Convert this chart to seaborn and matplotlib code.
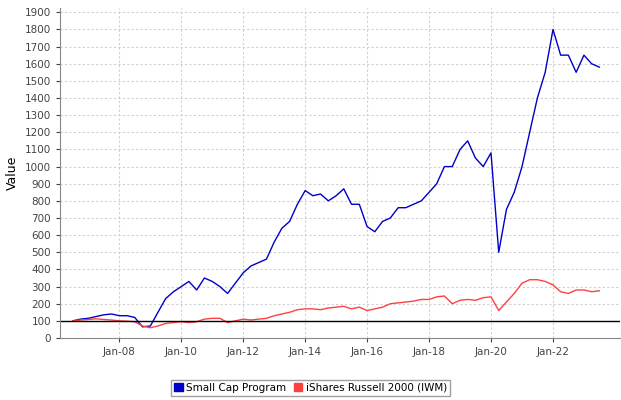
import matplotlib
matplotlib.use("Agg")
import matplotlib.pyplot as plt
import matplotlib.dates as mdates
import seaborn as sns
import pandas as pd
import numpy as np

dates = pd.date_range("2006-07-01", "2023-07-01", freq="QS")
small_cap = [100, 110,
             115, 125, 135, 140,
             130, 130, 120, 65,
             70, 150, 230, 270,
             300, 330, 280, 350,
             330, 300, 260, 320,
             380, 420, 440, 460,
             560, 640, 680, 780,
             860, 830, 840, 800,
             830, 870, 780, 780,
             650, 620, 680, 700,
             760, 760, 780, 800,
             850, 900, 1000, 1000,
             1100, 1150, 1050, 1000,
             1080, 500, 750, 850,
             1000, 1200, 1400, 1550,
             1800, 1650, 1650, 1550,
             1650, 1600, 1580]
iwm = [100, 105,
       108, 112, 108, 105,
       100, 98, 95, 70,
       60, 70, 85, 90,
       95, 90, 95, 110,
       115, 115, 90, 100,
       110, 105, 110, 115,
       130, 140, 150, 165,
       170, 170, 165, 175,
       180, 185, 170, 180,
       160, 170, 180, 200,
       205, 210, 215, 225,
       225, 240, 245, 200,
       220, 225, 220, 235,
       240, 160, 210, 260,
       320, 340, 340, 330,
       310, 270, 260, 280,
       280, 270, 275]
n = min(len(dates), len(small_cap), len(iwm))
df = pd.DataFrame({"date": list(dates[:n]) * 2,
                   "value": small_cap[:n] + iwm[:n],
                   "series": ["Small Cap Program"] * n + ["iShares Russell 2000 (IWM)"] * n})

fig = plt.figure(figsize=(6.21, 4.0), dpi=100)
ax = fig.add_axes([60/621, 62/400, 560/621, 330/400])
sns.lineplot(data=df, x="date", y="value", hue="series",
             palette={"Small Cap Program": "#0000c8", "iShares Russell 2000 (IWM)": "#ff4040"},
             linewidth=1, ax=ax, legend=False)
ax.axhline(100, color="black", linewidth=1)
ax.set_ylim(0, 1925)
ax.set_yticks(range(0, 2000, 100))
ax.set_xlim(pd.Timestamp("2006-02-01"), pd.Timestamp("2024-03-01"))
ax.xaxis.set_major_locator(mdates.YearLocator(2, month=1, day=1))
ax.xaxis.set_major_formatter(mdates.DateFormatter("Jan-%y"))
ax.set_xticks([pd.Timestamp(f"{y}-01-01") for y in range(2008, 2024, 2)])
ax.grid(True, color="#d0d0d0", linestyle=(0, (2, 2)), linewidth=0.8)
ax.tick_params(labelsize=7.5, colors="#444444", length=3)
ax.set_xlabel("")
ax.set_ylabel("Value", fontsize=9)
for s in ["top", "right"]:
    ax.spines[s].set_visible(False)
for s in ["left", "bottom"]:
    ax.spines[s].set_color("#888888")

from matplotlib.patches import Patch
handles = [Patch(color="#0000c8", label="Small Cap Program"),
           Patch(color="#ff4040", label="iShares Russell 2000 (IWM)")]
fig.legend(handles=handles, loc="center", bbox_to_anchor=(0.5, 388/400 * 0 + 12/400 + 0.0), ncol=2,
           fontsize=7.5, frameon=True, fancybox=False, edgecolor="#888888",
           handlelength=0.8, handleheight=0.8, columnspacing=0.8, handletextpad=0.3, borderpad=0.3)
fig.savefig("out.png", dpi=100)
